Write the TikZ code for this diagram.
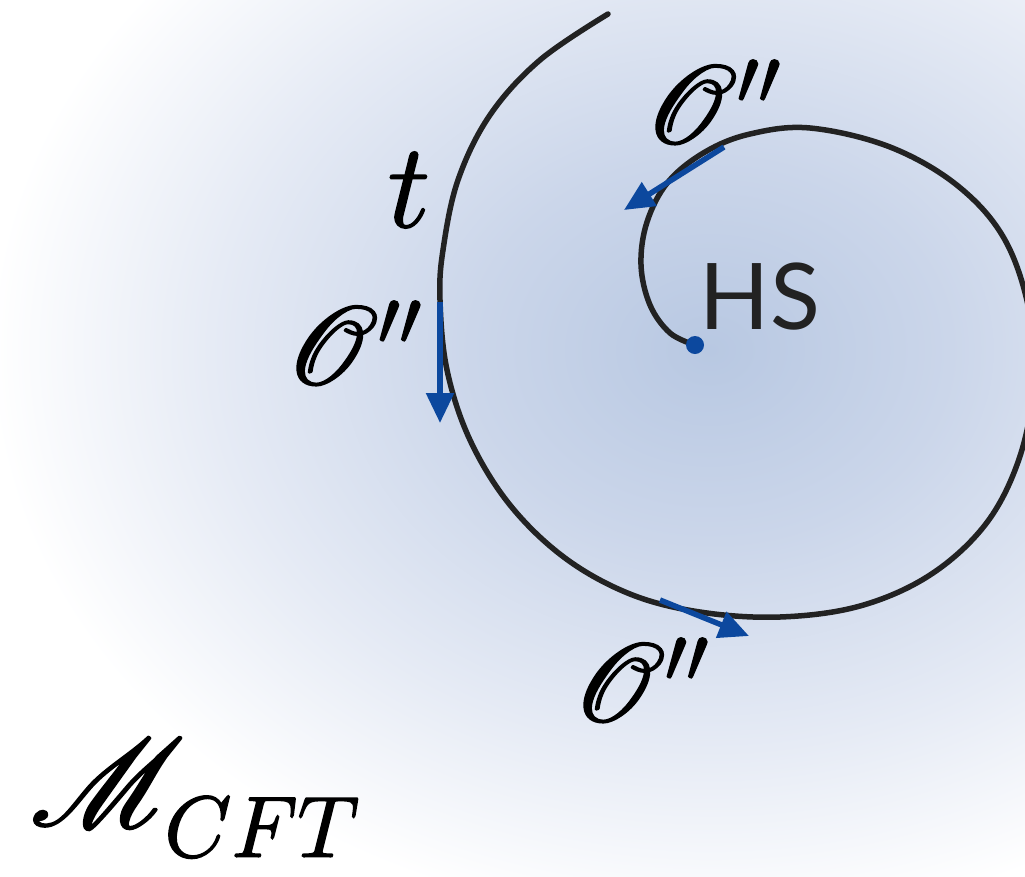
\documentclass[tikz,border=0pt]{standalone}
\usepackage{graphicx}
\usepackage{mathrsfs}
\usepackage{fontspec}
\newfontfamily\hsfont{Lato}
\usetikzlibrary{arrows.meta}
\definecolor{bgc}{RGB}{184,200,226}
\definecolor{bgcb}{RGB}{203,214,234}
\definecolor{bgcc}{RGB}{230,235,245}
\definecolor{arrblue}{RGB}{12,72,158}
\definecolor{curvegray}{RGB}{34,34,34}
\pgfdeclareradialshading{bgshade}{\pgfpoint{0bp}{0bp}}{color(0bp)=(bgc); color(6bp)=(bgcb); color(12.5bp)=(bgcc); color(18bp)=(white); color(25bp)=(white); color(50bp)=(white)}
\tikzset{
  spiral/.style={draw=curvegray, line width=5.5pt, line cap=round},
  opvec/.style={draw=arrblue, line width=5.5pt, -{Triangle[length=30pt,width=27pt]}},
  lbl/.style={inner sep=0pt, font=\fontsize{20}{24}\selectfont},
}
\newcommand{\fakebf}[1]{\special{pdf:literal direct 2 Tr 0.28 w}#1\special{pdf:literal direct 0 Tr}}
\newcommand{\bigop}{\scalebox{5.4}{\fakebf{$\mathscr{O}''$}}}
\begin{document}
\begin{tikzpicture}[x=1pt,y=-1pt]
\useasboundingbox (0,0) rectangle (1025,876);
\begin{scope}
\clip (0,0) rectangle (1025,876);
\fill[white] (0,0) rectangle (1025,876);
\shade[shading=bgshade] (710,350) ellipse [x radius=1000, y radius=800];
\draw[spiral] plot[smooth, tension=0.6] coordinates {
 (608,14) (540,60) (490,115) (458,180) (443,250) (440,300) (447,370) (470,440)
 (510,505) (565,558) (630,594) (700,612) (780,617) (860,606) (930,575)
 (985,525) (1018,462) (1033,390) (1030,315) (1005,240) (958,186) (890,147)
 (810,128) (750,134) (705,152) (668,182) (647,222) (641,265) (650,305) (670,333) (695,345)};
\end{scope}
\coordinate (a1) at (724,147);
\coordinate (a1e) at (624,210);
\coordinate (a2) at (440,302);
\coordinate (a2e) at (440,423);
\coordinate (a3) at (660,600);
\coordinate (a3e) at (749,636);
\draw[opvec] (a1) -- (a1e);
\draw[opvec] (a2) -- (a2e);
\draw[opvec] (a3) -- (a3e);
\fill[arrblue] (695,345) circle (9);
\node[lbl] (o1) at (714,102) {\bigop};
\node[lbl] (o2) at (355,343) {\bigop};
\node[lbl] (o3) at (642,680) {\bigop};
\node[lbl] (t) at (409,190) {\scalebox{5.8}{\fakebf{$t$}}};
\node[inner sep=0pt, text=curvegray, font=\hsfont\fontsize{92}{92}\selectfont] (hs) at (760,297) {HS};
\node[lbl, anchor=base west] (m) at (30,826) {\scalebox{6}{\fakebf{$\mathscr{M}_{\raisebox{-2pt}{$\scriptstyle CFT$}}$}}};
\end{tikzpicture}
\end{document}
